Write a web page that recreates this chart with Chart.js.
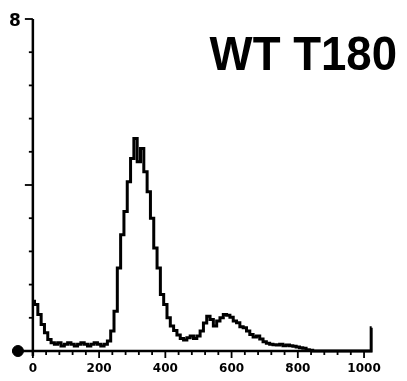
<!DOCTYPE html>
<html>
<head>
<meta charset="utf-8">
<script src="https://cdn.jsdelivr.net/npm/chart.js@4"></script>
<style>
  html, body { margin: 0; padding: 0; background: #fff; }
  #wrap { width: 407px; height: 381px; }
</style>
</head>
<body>
<div id="wrap"><canvas id="histChart" width="407" height="381"></canvas></div>
<script>
const chartTitle = 'WT T180';

// channel (fluorescence) and cell count
const channels = [
    0, 10, 20, 30, 40, 50, 60, 70, 80, 90,
    100, 110, 120, 130, 140, 150, 160, 170, 180, 190,
    200, 210, 220, 230, 240, 250, 260, 270, 280, 290,
    300, 310, 320, 330, 340, 350, 360, 370, 380, 390,
    400, 410, 420, 430, 440, 450, 460, 470, 480, 490,
    500, 510, 520, 530, 540, 550, 560, 570, 580, 590,
    600, 610, 620, 630, 640, 650, 660, 670, 680, 690,
    700, 710, 720, 730, 740, 750, 760, 770, 780, 790,
    800, 810, 820, 830, 840, 850, 860, 870, 880, 890,
    900, 910, 920, 930, 940, 950, 960, 970, 980, 990,
    1000, 1010, 1020, 1023
];
const counts = [
    15, 14, 11, 8, 5.5, 3.5, 2.5, 2, 2.5, 1.5,
    2, 2.5, 2, 1.5, 2, 2.5, 2, 1.5, 2, 2.5,
    2, 1.5, 2, 3, 6, 12, 25, 35, 42, 51,
    58, 64, 57, 61, 54, 48, 40, 31, 25, 17,
    14, 10, 7.5, 6.2, 4.8, 3.8, 3.3, 4, 4.5, 3.8,
    4.5, 6, 8.4, 10.5, 9.5, 7.5, 9, 10, 11, 10.8,
    10.2, 9, 8.5, 7.3, 7, 6, 5, 4.2, 4.5, 3.6,
    2.8, 2.3, 2, 1.9, 1.8, 2, 1.6, 1.8, 1.6, 1.4,
    1.2, 1, 0.8, 0.4, 0.2, 0, 0, 0, 0, 0,
    0, 0, 0, 0, 0, 0, 0, 0, 0, 0,
    0, 0, 0, 7
];

// axis ticks
const xTicks = [0, 40, 80, 120, 160, 200, 240, 280, 320, 360, 400, 440, 480, 520, 560, 600,
                640, 680, 720, 760, 800, 840, 880, 920, 960, 1000];
const xTickLabels = ['0', '200', '400', '600', '800', '1000'];
const xLabelValues = [0, 200, 400, 600, 800, 1000];
const yTicks = [0, 10, 20, 30, 40, 50, 60, 70, 80, 90, 100];
const yTickLabels = ['8'];
const yLabelValues = [100];

// leftover marker at the start of the x axis
const markerPoint = [{ x: -45, y: 0 }];

const axesPlugin = {
    id: 'oldAxes',
    afterDatasetsDraw(chart) {
        const ctx = chart.ctx;
        const xs = chart.scales.x;
        const ys = chart.scales.y;
        const x0 = xs.getPixelForValue(0);
        const y0 = ys.getPixelForValue(0);

        ctx.save();
        ctx.strokeStyle = '#000';
        ctx.fillStyle = '#000';
        ctx.lineCap = 'butt';

        // x axis
        ctx.lineWidth = 2.5;
        ctx.beginPath();
        ctx.moveTo(xs.getPixelForValue(xs.min), y0);
        ctx.lineTo(xs.getPixelForValue(xs.max), y0);
        ctx.stroke();

        ctx.lineWidth = 1.8;
        xTicks.forEach(v => {
            const px = xs.getPixelForValue(v);
            const len = xLabelValues.includes(v) ? 7 : 4;
            ctx.beginPath();
            ctx.moveTo(px, y0);
            ctx.lineTo(px, y0 + len);
            ctx.stroke();
        });

        // y axis
        ctx.lineWidth = 2.5;
        ctx.beginPath();
        ctx.moveTo(x0, ys.getPixelForValue(ys.max));
        ctx.lineTo(x0, y0 + 5);
        ctx.stroke();

        ctx.lineWidth = 1.8;
        yTicks.forEach(v => {
            const py = ys.getPixelForValue(v);
            const len = (v === 50 || v === 100) ? 8 : 4;
            ctx.beginPath();
            ctx.moveTo(x0, py);
            ctx.lineTo(x0 - len, py);
            ctx.stroke();
        });

        // tick labels
        ctx.font = 'bold 12px "DejaVu Sans"';
        ctx.textAlign = 'center';
        ctx.textBaseline = 'middle';
        xLabelValues.forEach((v, i) => {
            ctx.fillText(xTickLabels[i], xs.getPixelForValue(v), y0 + 18);
        });
        ctx.font = 'bold 17px "DejaVu Sans"';
        yLabelValues.forEach((v, i) => {
            ctx.fillText(yTickLabels[i], x0 - 18, ys.getPixelForValue(v) + 3);
        });

        // title, slightly condensed like the original lettering
        ctx.font = 'bold 49px "Liberation Sans"';
        ctx.textAlign = 'right';
        ctx.textBaseline = 'alphabetic';
        ctx.translate(397, 70);
        ctx.scale(0.93, 1);
        ctx.fillText(chartTitle, 0, 0);
        ctx.restore();
    }
};

document.addEventListener('DOMContentLoaded', () => {
    const ctx = document.getElementById('histChart').getContext('2d');

    new Chart(ctx, {
        type: 'line',
        data: {
            datasets: [{
                data: channels.map((c, i) => ({ x: c, y: counts[i] })),
                borderColor: '#000',
                borderWidth: 3,
                pointRadius: 0,
                stepped: 'middle',
                fill: false,
                clip: false
            }, {
                data: markerPoint,
                showLine: false,
                pointRadius: 5.5,
                pointBackgroundColor: '#000',
                pointBorderColor: '#000',
                clip: false
            }]
        },
        options: {
            responsive: false,
            animation: false,
            events: [],
            layout: { padding: { left: 12, right: 35, top: 19, bottom: 30 } },
            plugins: {
                legend: { display: false },
                tooltip: { enabled: false },
                title: { display: false }
            },
            scales: {
                x: { type: 'linear', min: -63, max: 1024, display: false },
                y: { type: 'linear', min: 0, max: 100, display: false }
            }
        },
        plugins: [axesPlugin]
    });
});
</script>
</body>
</html>
